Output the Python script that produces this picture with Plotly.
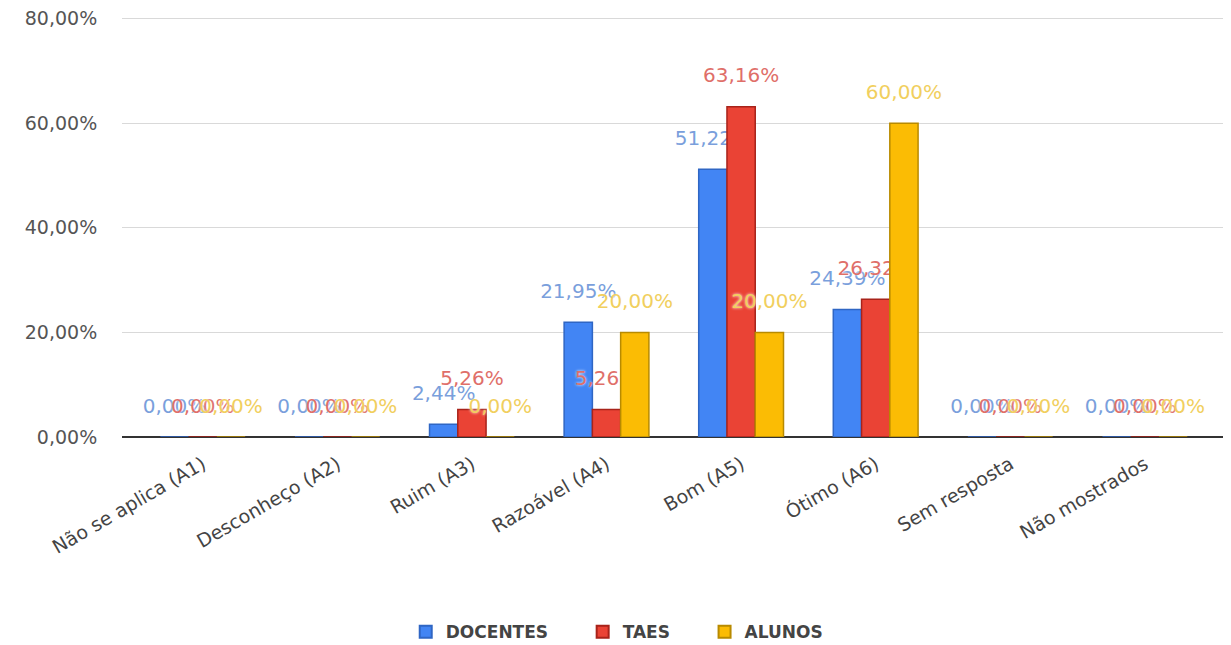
import plotly.graph_objects as go

# --- Data (percent) ---
categorias = ["Não se aplica (A1)", "Desconheço (A2)", "Ruim (A3)", "Razoável (A4)",
              "Bom (A5)", "Ótimo (A6)", "Sem resposta", "Não mostrados"]
docentes = [0.0, 0.0, 2.44, 21.95, 51.22, 24.39, 0.0, 0.0]
taes = [0.0, 0.0, 5.26, 5.26, 63.16, 26.32, 0.0, 0.0]
alunos = [0.0, 0.0, 0.0, 20.0, 20.0, 60.0, 0.0, 0.0]

y_ticks = [0, 20, 40, 60, 80]
y_tick_labels = [f"{v:.2f}%".replace(".", ",") for v in y_ticks]

series = [
    ("DOCENTES", docentes, "#4285F4", "#2f66c4", "#7a9fdc"),
    ("TAES", taes, "#EA4335", "#a8231a", "#df6f69"),
    ("ALUNOS", alunos, "#FBBC04", "#b88a00", "#f1cf5e"),
]

FONT = "DejaVu Sans"
NBSP = "\u00a0"

fig = go.Figure()
for name, vals, color, edge, label_color in series:
    fig.add_trace(go.Bar(
        x=categorias, y=vals, name=name + NBSP * 5,
        marker=dict(color=color, line=dict(color=edge, width=1.5)),
        texttemplate="<span style='font-size:20px'>%{y:.2f}%</span><br> ",
        textposition="outside",
        constraintext="none",
        cliponaxis=False,
        textfont=dict(family=FONT, size=14, color=label_color,
                      shadow="0px 0px 3px white"),
    ))

# page body adds an 8px offset, so the figure is sized to fit the 1231x645 window
fig.update_layout(
    barmode="group",
    bargap=0.37,
    bargroupgap=0,
    separators=",.",
    width=1223, height=637,
    margin=dict(l=114, r=0, t=8, b=208, autoexpand=False),
    plot_bgcolor="white", paper_bgcolor="white",
    font=dict(family=FONT, color="#555555"),
    legend=dict(
        orientation="h", xref="container", x=0.51, xanchor="center",
        yref="container", y=0.02, yanchor="middle",
        font=dict(family=FONT, size=17, color="#444444", weight="bold"),
        itemsizing="constant",
    ),
)

fig.update_xaxes(
    range=[-0.6, 7.64],
    tickangle=-30,
    tickfont=dict(family=FONT, size=19, color="#444444"),
    showgrid=False,
    showline=False,
    ticks="outside", ticklen=8, tickcolor="rgba(0,0,0,0)",
    automargin=False,
)

fig.update_yaxes(
    range=[0, 80.5],
    tickvals=y_ticks,
    ticktext=y_tick_labels,
    ticklabeloverflow="allow",
    tickfont=dict(family=FONT, size=19, color="#555555"),
    gridcolor="#d9d9d9",
    zeroline=True, zerolinecolor="#333333", zerolinewidth=1.5,
    ticks="outside", ticklen=20, tickcolor="rgba(0,0,0,0)",
    automargin=False,
)

fig.write_html("out.html")
